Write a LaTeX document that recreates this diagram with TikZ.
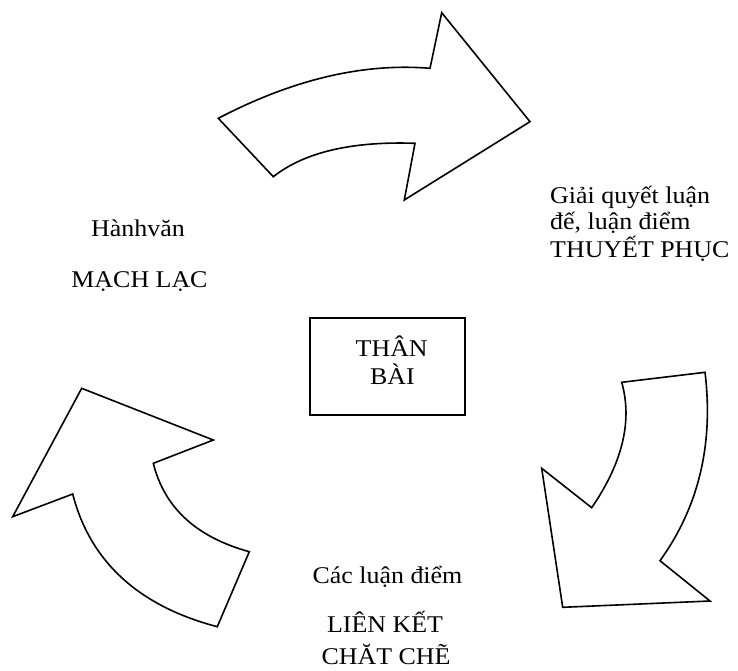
\documentclass[tikz,border=0pt]{standalone}
\usepackage{fontspec}
\setmainfont{Liberation Serif}[FakeStretch=1.08]
\begin{document}
\begin{tikzpicture}[x=1pt,y=-1pt,
  bigarrow/.style={draw=black, fill=white, line width=1.6pt, line join=miter},
  lbl/.style={inner sep=0pt, font=\fontsize{24}{27}\selectfont},
  boxnode/.style={draw=black, line width=1.6pt}]
\useasboundingbox (0,0) rectangle (738,670);
% top arrow
\draw[bigarrow] (218.3,118.3) -- (273.3,176.7)
  .. controls (304.4,152.2) and (351.7,141.1) .. (415,143.3)
  -- (404.3,200) -- (530,121.7) -- (441.7,12.7) -- (430,68.3)
  .. controls (363.3,62.8) and (292.8,79.4) .. cycle;
% right arrow
\draw[bigarrow] (621.7,382.3) -- (705,372.3)
  .. controls (713.7,444.1) and (698.7,506.9) .. (660,560.7)
  -- (710,601) -- (562.7,607.3) -- (541.7,468.3) -- (591.7,507.7)
  .. controls (622.6,462.6) and (632.6,420.8) .. cycle;
% left arrow
\draw[bigarrow] (81.7,388.3) -- (213.3,440) -- (153.3,463.3)
  .. controls (164.4,507.8) and (196.4,537.2) .. (249.3,551.7)
  -- (217.3,626.7)
  .. controls (139.1,606.2) and (90.2,562) .. (72.7,494)
  -- (12.7,516.7) -- cycle;
% centre box
\node[boxnode, minimum width=155pt, minimum height=97pt, anchor=north west] (box) at (309,317) {};
\node[lbl, anchor=base] (than) at (391.7,356.7) {THÂN};
\node[lbl, anchor=base] (bai) at (392.5,384.3) {BÀI};
% left labels
\node[lbl, anchor=base] (hanhvan) at (138,236.7) {Hànhvăn};
\node[lbl, anchor=base] (machlac) at (139.5,287.3) {MẠCH LẠC};
% right labels
\node[lbl, anchor=base west] (giai1) at (550,203.3) {Giải quyết luận};
\node[lbl, anchor=base west] (giai2) at (550,229.3) {đế, luận điểm};
\node[lbl, anchor=base west] (giai3) at (550,257.3) {THUYẾT PHỤC};
% bottom labels
\node[lbl, anchor=base] (cac) at (387.5,583.3) {Các luận điểm};
\node[lbl, anchor=base] (lien) at (385,632.7) {LIÊN KẾT};
\node[lbl, anchor=base] (chat) at (386,664) {CHĂT CHẼ};
\end{tikzpicture}
\end{document}
